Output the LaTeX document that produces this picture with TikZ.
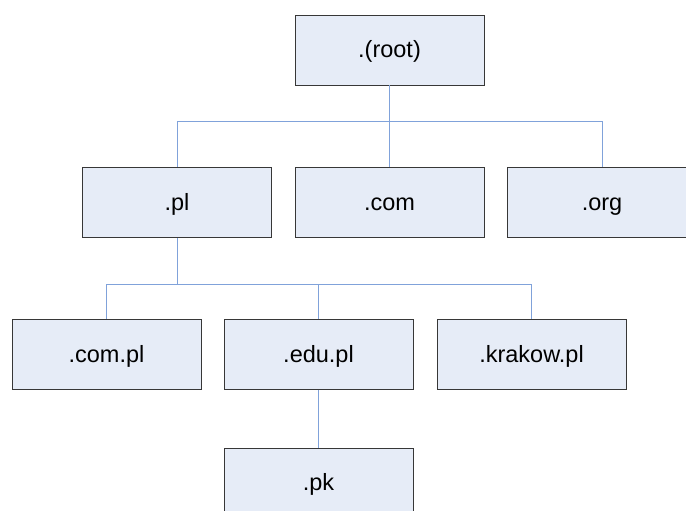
\documentclass[tikz,border=0pt]{standalone}
\usepackage{fontspec}
\setmainfont{Liberation Sans}
\definecolor{boxfill}{RGB}{230,236,247}
\definecolor{boxline}{RGB}{55,55,55}
\definecolor{linkblue}{RGB}{128,162,218}
\tikzset{
  dnsbox/.style={rectangle, draw=boxline, fill=boxfill, line width=0.9pt,
    minimum width=189pt, minimum height=70pt, inner sep=0pt,
    text height=17pt, text depth=2pt,
    font=\fontsize{23.5}{28}\selectfont},
  link/.style={draw=linkblue, line width=0.9pt}
}
\begin{document}
\begin{tikzpicture}[y=1pt, x=1pt, yscale=-1]
\useasboundingbox (0,0) rectangle (686,511);
% top level
\node[dnsbox] (root) at (389.5,50) {.(root)};
\node[dnsbox] (pl) at (177,202.5) {.pl};
\node[dnsbox] (com) at (389.5,202.5) {.com};
\node[dnsbox] (org) at (602,202.5) {.org};
% second level
\node[dnsbox] (compl) at (106.5,354.5) {.com.pl};
\node[dnsbox] (edupl) at (318.5,354.5) {.edu.pl};
\node[dnsbox] (krakowpl) at (531.5,354.5) {.krakow.pl};
\node[dnsbox] (pk) at (318.5,483) {.pk};
% branches
\coordinate (bus1) at (389.5,121);
\coordinate (bus2) at (177,284);
\path[link] (root.south) -- (bus1);
\path[link] (bus1) -| (pl.north);
\path[link] (bus1) -| (org.north);
\path[link] (bus1) -- (com.north);
\path[link] (pl.south) -- (bus2);
\path[link] (bus2) -| (compl.north);
\path[link] (bus2) -| (krakowpl.north);
\path[link] (edupl.north) -- (edupl.north |- bus2);
\path[link] (edupl.south) -- (pk.north);
\end{tikzpicture}
\end{document}
